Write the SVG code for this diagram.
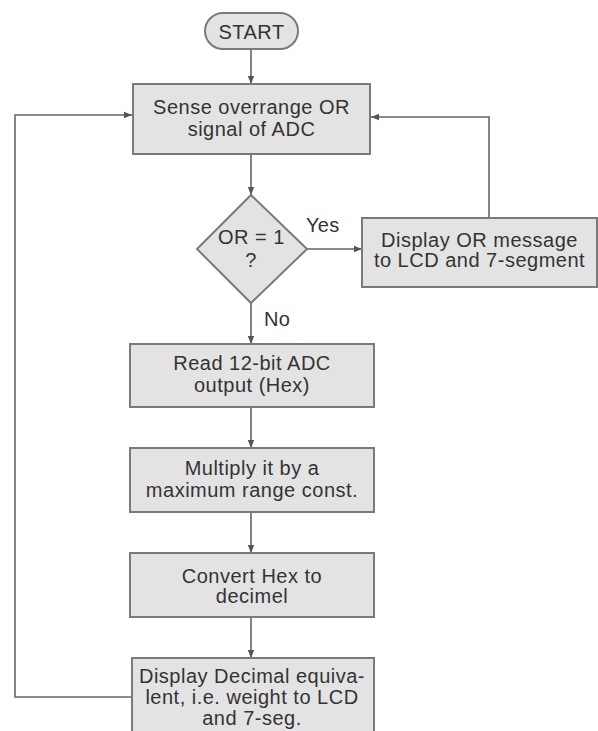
<svg xmlns="http://www.w3.org/2000/svg" width="598" height="731" viewBox="0 0 598 731">
  <defs>
    <marker id="arrow" viewBox="0 0 10 10" refX="10" refY="5" markerWidth="8" markerHeight="8" markerUnits="userSpaceOnUse" orient="auto">
      <path d="M0,1 L10,5 L0,9 Z" fill="#555"/>
    </marker>
    <style>
      .box { fill: #e3e3e3; stroke: #7a7a7a; stroke-width: 2; }
      .lbl { font-family: "Liberation Sans", Arial, sans-serif; font-size: 20px; letter-spacing: 0.5px; fill: #333; text-anchor: middle; }
      .tag { font-family: "Liberation Sans", Arial, sans-serif; font-size: 20px; letter-spacing: 0.3px; fill: #333; }
      .conn { fill: none; stroke: #666; stroke-width: 1.6; }
    </style>
  </defs>
  <rect width="598" height="731" fill="#fff"/>

  <g id="connectors">
    <line class="conn" x1="251" y1="49" x2="251" y2="84" marker-end="url(#arrow)"/>
    <line class="conn" x1="251" y1="155" x2="251" y2="195" marker-end="url(#arrow)"/>
    <line class="conn" x1="307" y1="249" x2="362" y2="249" marker-end="url(#arrow)"/>
    <polyline class="conn" points="489,218 489,117 371,117" marker-end="url(#arrow)"/>
    <line class="conn" x1="251" y1="303" x2="251" y2="344" marker-end="url(#arrow)"/>
    <line class="conn" x1="251" y1="407" x2="251" y2="448" marker-end="url(#arrow)"/>
    <line class="conn" x1="251" y1="512" x2="251" y2="553" marker-end="url(#arrow)"/>
    <line class="conn" x1="251" y1="617" x2="251" y2="658" marker-end="url(#arrow)"/>
    <polyline class="conn" points="131,697 15,697 15,115 132,115" marker-end="url(#arrow)"/>
    <text class="tag" x="306" y="232">Yes</text>
    <text class="tag" x="264" y="326">No</text>
  </g>

  <g id="start">
    <rect x="205" y="13" width="93" height="36" rx="18" ry="18" class="box"/>
    <text class="lbl" x="251.5" y="39">START</text>
  </g>

  <g id="sense">
    <rect x="133" y="84" width="237" height="70" class="box"/>
    <text class="lbl" x="251.5" y="114">Sense overrange OR</text>
    <text class="lbl" x="251.5" y="136">signal of ADC</text>
  </g>

  <g id="decision">
    <polygon points="251,195 307,249 251,303 197,249" class="box"/>
    <text class="lbl" x="251.5" y="244">OR = 1</text>
    <text class="lbl" x="251" y="267">?</text>
  </g>

  <g id="overrange-display">
    <rect x="362" y="218" width="235" height="69" class="box"/>
    <text class="lbl" x="479.5" y="247">Display OR message</text>
    <text class="lbl" x="479.5" y="267">to LCD and 7-segment</text>
  </g>

  <g id="read-adc">
    <rect x="130" y="344" width="244" height="63" class="box"/>
    <text class="lbl" x="252" y="370">Read 12-bit ADC</text>
    <text class="lbl" x="252" y="392">output (Hex)</text>
  </g>

  <g id="multiply">
    <rect x="130" y="448" width="244" height="64" class="box"/>
    <text class="lbl" x="252" y="475">Multiply it by a</text>
    <text class="lbl" x="252" y="497">maximum range const.</text>
  </g>

  <g id="convert">
    <rect x="130" y="553" width="244" height="64" class="box"/>
    <text class="lbl" x="252" y="583">Convert Hex to</text>
    <text class="lbl" x="252" y="603">decimel</text>
  </g>

  <g id="display-decimal">
    <rect x="132" y="658" width="242" height="84" class="box"/>
    <text class="lbl" x="252" y="683">Display Decimal equiva-</text>
    <text class="lbl" x="252" y="704">lent, i.e. weight to LCD</text>
    <text class="lbl" x="252" y="725">and 7-seg.</text>
  </g>
</svg>
